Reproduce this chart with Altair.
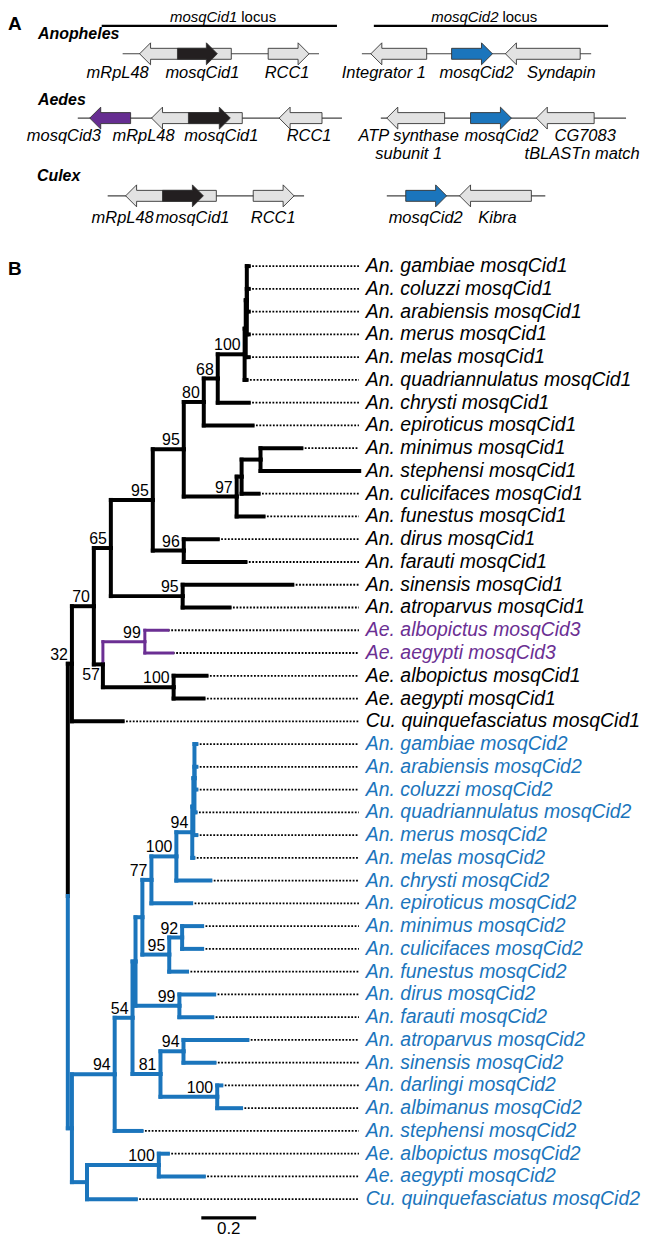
import altair as alt
import pandas as pd

FONT = "Liberation Sans"
BLACK = "#000000"
BLUE = "#1b75bc"
PURPLE = "#6b2f93"
GRAY_FILL = "#e2e2e2"

# ---------------- Panel A : gene neighbourhoods ----------------
GENUS = ["Anopheles", "Aedes", "Culex"]
GENUS_X = [38, 38, 37]
GENUS_Y = [32, 98, 175]
ROW_Y = [52, 116.5, 194.5]

LOCUS_NAME = ["mosqCid1", "mosqCid2"]
LOCUS_SPLIT_X = [238, 500]
LOCUS_TEXT_Y = [20.5, 20.5]
LOCUS_BAR_Y = [24, 24]
LOCUS_BAR_START = [102, 375]
LOCUS_BAR_END = [338, 610]

BACKBONE_ROW = [0, 0, 1, 1, 2, 2]
BACKBONE_START = [123, 363, 78, 382, 108, 388]
BACKBONE_END = [320, 593, 343, 628, 305, 547]

GENE_NAME = ["mRpL48", "mosqCid1", "RCC1", "Integrator 1", "mosqCid2", "Syndapin",
             "mosqCid3", "mRpL48", "mosqCid1", "RCC1", "ATP synthase subunit 1", "mosqCid2", "CG7083",
             "mRpL48", "mosqCid1", "RCC1", "mosqCid2", "Kibra"]
GENE_ROW = [0, 0, 0, 0, 0, 0, 1, 1, 1, 1, 1, 1, 1, 2, 2, 2, 2, 2]
GENE_START = [140, 178, 269, 372, 453, 507, 90, 152, 189, 280, 388, 472, 538, 126, 163, 254, 407, 461]
GENE_END = [232, 218, 310, 428, 494, 582, 131, 243, 231, 323, 446, 513, 596, 217, 204, 295, 448, 533]
GENE_STRAND = [-1, 1, 1, -1, 1, -1, -1, -1, 1, -1, -1, 1, -1, -1, 1, 1, 1, -1]

GENE_LABEL = ["mRpL48", "mosqCid1", "RCC1", "Integrator 1", "mosqCid2", "Syndapin",
              "mosqCid3", "mRpL48", "mosqCid1", "RCC1", "ATP synthase", "subunit 1", "mosqCid2",
              "CG7083", "tBLASTn match",
              "mRpL48", "mosqCid1", "RCC1", "mosqCid2", "Kibra"]
GENE_LABEL_X = [118, 203, 288, 385, 478, 563, 64, 144, 222, 310, 410, 410, 503, 587, 584,
                123, 193, 274, 427, 499]
GENE_LABEL_Y = [71, 71, 71, 71, 71, 71, 134, 134, 134, 134, 134, 153, 134, 134, 153,
                217, 217, 217, 217, 217]

GENE_COLORS = {"mosqCid1": "#231f20", "mosqCid2": BLUE, "mosqCid3": "#662d91"}

# ---------------- Panel B : phylogeny (branch lengths, subst./site) ----------------
def L(name, bl):
    return {"name": name, "bl": bl}


def N(bl, boot, *children, below=False):
    return {"bl": bl, "boot": boot, "children": list(children), "below": below}


TREE = N(0, None,
  N(0.015, "32",
    N(0.080, "70",
      N(0.062, "65",
        N(0.153, "95",
          N(0.113, "95",
            N(0.073, "80",
              N(0.051, "68",
                N(0.098, "100",
                  N(0.004, None,
                    N(0.004, None,
                      L("An. gambiae mosqCid1", 0.007),
                      L("An. coluzzi mosqCid1", 0.007),
                      L("An. arabiensis mosqCid1", 0.007),
                      L("An. merus mosqCid1", 0.007)),
                    L("An. melas mosqCid1", 0.011)),
                  L("An. quadriannulatus mosqCid1", 0.007)),
                L("An. chrysti mosqCid1", 0.113)),
              L("An. epiroticus mosqCid1", 0.178)),
            N(0.193, "97",
              N(0.018, None,
                N(0.069, None,
                  L("An. minimus mosqCid1", 0.149),
                  L("An. stephensi mosqCid1", 0.360)),
                L("An. culicifaces mosqCid1", 0.062)),
              L("An. funestus mosqCid1", 0.098))),
          N(0.113, "96",
            L("An. dirus mosqCid1", 0.124),
            L("An. farauti mosqCid1", 0.225))),
        N(0.262, "95",
          L("An. sinensis mosqCid1", 0.400),
          L("An. atroparvus mosqCid1", 0.171))),
      N(0.033, "57",
        N(0.153, "99",
          L("Ae. albopictus mosqCid3", 0.084),
          L("Ae. aegypti mosqCid3", 0.102)),
        N(0.258, "100",
          L("Ae. albopictus mosqCid1", 0.120),
          L("Ae. aegypti mosqCid1", 0.109)),
        below=True)),
    L("Cu. quinquefasciatus mosqCid1", 0.185)),
  N(0.015, None,
    N(0.156, "94",
      N(0.065, "54",
        N(0.011, None,
          N(0.025, None,
            N(0.033, "77",
              N(0.091, "100",
                N(0.058, "94",
                  N(0.004, None,
                    N(0.004, None,
                      L("An. gambiae mosqCid2", 0.007),
                      L("An. arabiensis mosqCid2", 0.007),
                      L("An. coluzzi mosqCid2", 0.007),
                      L("An. quadriannulatus mosqCid2", 0.004)),
                    L("An. merus mosqCid2", 0.011)),
                  L("An. melas mosqCid2", 0.004)),
                L("An. chrysti mosqCid2", 0.124)),
              L("An. epiroticus mosqCid2", 0.145)),
            N(0.098, "95",
              N(0.047, "92",
                L("An. minimus mosqCid2", 0.073),
                L("An. culicifaces mosqCid2", 0.073)),
              L("An. funestus mosqCid2", 0.065))),
          N(0.160, "99",
            L("An. dirus mosqCid2", 0.127),
            L("An. farauti mosqCid2", 0.120))),
        N(0.102, "81",
          N(0.084, "94",
            L("An. atroparvus mosqCid2", 0.233),
            L("An. sinensis mosqCid2", 0.113)),
          N(0.207, "100",
            L("An. darlingi mosqCid2", 0.015),
            L("An. albimanus mosqCid2", 0.087)))),
      L("An. stephensi mosqCid2", 0.098)),
    N(0.055, None,
      N(0.262, "100",
        L("Ae. albopictus mosqCid2", 0.033),
        L("Ae. aegypti mosqCid2", 0.164)),
      L("Cu. quinquefasciatus mosqCid2", 0.178))))

SCALE_BAR_LEN = 0.2
SCALE_BAR_START = 0.487
SCALE_BAR_ROW = 41.82
LEADER_END = 1.062
LABEL_X = 1.087

# ---------------- layout / scales ----------------
PAGE_W = 633
A_H = 225
B_H = 1000
sAx = alt.Scale(domain=[8, 641], nice=False, zero=False)
sAy = alt.Scale(domain=[8, 8 + A_H], nice=False, zero=False, reverse=True)
X0_PAGE, PX_UNIT = 68.0, 275.0
LEAF_Y0, LEAF_DY = 265.0, 22.83
sBx = alt.Scale(domain=[(8 - X0_PAGE) / PX_UNIT, (641 - X0_PAGE) / PX_UNIT], nice=False, zero=False)
sBy = alt.Scale(domain=[(233 - LEAF_Y0) / LEAF_DY, (233 + B_H - LEAF_Y0) / LEAF_DY],
                nice=False, zero=False, reverse=True)


def XA(f="x"):
    return alt.X(f"{f}:Q", scale=sAx, axis=None)


def YA(f="y"):
    return alt.Y(f"{f}:Q", scale=sAy, axis=None)


def XB(f="x"):
    return alt.X(f"{f}:Q", scale=sBx, axis=None)


def YB(f="y"):
    return alt.Y(f"{f}:Q", scale=sBy, axis=None)


# ---------- Panel A tables ----------
locus_bars = pd.DataFrame({"x": LOCUS_BAR_START, "x2": LOCUS_BAR_END, "y": LOCUS_BAR_Y})
locus_it = pd.DataFrame({"x": LOCUS_SPLIT_X, "y": LOCUS_TEXT_Y, "t": LOCUS_NAME})
locus_rm = pd.DataFrame({"x": LOCUS_SPLIT_X, "y": LOCUS_TEXT_Y, "t": ["locus", "locus"]})
backbones = pd.DataFrame({"x": BACKBONE_START, "x2": BACKBONE_END,
                          "y": [ROW_Y[r] for r in BACKBONE_ROW]})

HEAD_LEN, BODY_HALF, HEAD_HALF, EPS = 11, 5.5, 11, 0.02
poly = []
for gid, (name, row, s, e, strand) in enumerate(zip(GENE_NAME, GENE_ROW, GENE_START, GENE_END, GENE_STRAND)):
    yc = ROW_Y[row]
    if strand > 0:
        hb = max(s, e - HEAD_LEN)
        pts = [(s, yc - BODY_HALF, yc + BODY_HALF), (hb - EPS, yc - BODY_HALF, yc + BODY_HALF),
               (hb, yc - HEAD_HALF, yc + HEAD_HALF), (e, yc, yc)]
    else:
        hb = min(e, s + HEAD_LEN)
        pts = [(s, yc, yc), (hb, yc - HEAD_HALF, yc + HEAD_HALF),
               (hb + EPS, yc - BODY_HALF, yc + BODY_HALF), (e, yc - BODY_HALF, yc + BODY_HALF)]
    fill = GENE_COLORS.get(name, GRAY_FILL)
    for k, (px, y1, y2) in enumerate(pts):
        poly.append({"gid": f"g{gid:02d}", "x": px, "y": y1, "y2": y2, "fill": fill,
                     "grey": fill == GRAY_FILL})
poly = pd.DataFrame(poly)

genus_df = pd.DataFrame({"x": GENUS_X, "y": GENUS_Y, "t": GENUS})
glabel_df = pd.DataFrame({"x": GENE_LABEL_X, "y": GENE_LABEL_Y, "t": GENE_LABEL})

bars_l = alt.Chart(locus_bars).mark_rule(color=BLACK, strokeWidth=2.2).encode(x=XA(), x2="x2:Q", y=YA())
lit_l = alt.Chart(locus_it).mark_text(font=FONT, fontSize=15, fontStyle="italic", align="right",
                                      baseline="alphabetic", color=BLACK).encode(x=XA(), y=YA(), text="t:N")
lrm_l = alt.Chart(locus_rm).mark_text(font=FONT, fontSize=15, align="left", dx=4,
                                      baseline="alphabetic", color=BLACK).encode(x=XA(), y=YA(), text="t:N")
bb_l = alt.Chart(backbones).mark_rule(color="#444444", strokeWidth=1.1).encode(x=XA(), x2="x2:Q", y=YA())


def gene_layer(df):
    return alt.Chart(df).mark_area(stroke="#333333", strokeWidth=0.9, interpolate="linear").encode(
        x=XA(), y=YA(), y2="y2:Q", detail="gid:N",
        color=alt.Color("fill:N", scale=None))


grey_l = gene_layer(poly[poly["grey"]])
col_l = gene_layer(poly[~poly["grey"]])
genus_l = alt.Chart(genus_df).mark_text(font=FONT, fontSize=16, fontStyle="italic", fontWeight="bold",
                                        align="left", baseline="middle", color=BLACK).encode(
    x=XA(), y=YA(), text="t:N")
glab_l = alt.Chart(glabel_df).mark_text(font=FONT, fontSize=16.5, fontStyle="italic", align="center",
                                        baseline="middle", color=BLACK).encode(x=XA(), y=YA(), text="t:N")
a_l = alt.Chart(pd.DataFrame({"x": [8], "y": [22], "t": ["A"]})).mark_text(
    font=FONT, fontSize=19, fontWeight="bold", align="left", baseline="middle", color=BLACK).encode(
    x=XA(), y=YA(), text="t:N")

panelA = alt.layer(bars_l, lit_l, lrm_l, bb_l, grey_l, col_l, genus_l, glab_l, a_l).properties(
    width=PAGE_W, height=A_H)

# ---------- Panel B tables ----------
leaves = []


def layout(node, xp):
    node["x"] = xp + node["bl"]
    if "children" in node:
        for c in node["children"]:
            layout(c, node["x"])
        node["y"] = (node["children"][0]["y"] + node["children"][-1]["y"]) / 2
        node["leafnames"] = [n for c in node["children"] for n in c["leafnames"]]
    else:
        node["y"] = len(leaves)
        node["leafnames"] = [node["name"]]
        leaves.append(node)


layout(TREE, 0.0)


def gene_color(names):
    if all(n.endswith("mosqCid3") for n in names):
        return PURPLE
    if all(n.endswith("mosqCid2") for n in names):
        return BLUE
    return BLACK


edges, boots = [], []


def collect(node):
    for c in node.get("children", []):
        col = gene_color(c["leafnames"])
        w = 3 if col == PURPLE else 4
        edges.append({"x": node["x"], "x2": c["x"], "y": c["y"], "y2": c["y"], "c": col, "w": w})
        edges.append({"x": node["x"], "x2": node["x"], "y": node["y"], "y2": c["y"], "c": col, "w": w})
        collect(c)
    if node.get("boot"):
        boots.append({"x": node["x"], "y": node["y"], "t": node["boot"], "below": node["below"]})


collect(TREE)
edges = pd.DataFrame(edges)
boots = pd.DataFrame(boots)
leaf_df = pd.DataFrame({"name": [l["name"] for l in leaves], "x": [l["x"] for l in leaves],
                        "y": [l["y"] for l in leaves],
                        "c": [gene_color([l["name"]]) for l in leaves]})
leaf_df["lx"] = LABEL_X
leaf_df["x2"] = LEADER_END
lead_df = leaf_df[leaf_df["x"] < LEADER_END]

lead_l = alt.Chart(lead_df).mark_rule(color=BLACK, strokeWidth=1.8, strokeDash=[1.8, 1.6]).encode(
    x=XB(), x2="x2:Q", y=YB())
edge_l = alt.Chart(edges).mark_rule(strokeCap="square").encode(
    x=XB(), x2="x2:Q", y=YB(), y2="y2:Q",
    color=alt.Color("c:N", scale=None), strokeWidth=alt.StrokeWidth("w:Q", scale=None))
boot_up = alt.Chart(boots[~boots["below"]]).mark_text(
    font=FONT, fontSize=16, align="right", baseline="alphabetic", dx=-4, dy=-4, color=BLACK).encode(
    x=XB(), y=YB(), text="t:N")
boot_dn = alt.Chart(boots[boots["below"]]).mark_text(
    font=FONT, fontSize=16, align="right", baseline="alphabetic", dx=-3, dy=16, color=BLACK).encode(
    x=XB(), y=YB(), text="t:N")
lab_l = alt.Chart(leaf_df).mark_text(font=FONT, fontSize=19.5, fontStyle="italic", align="left",
                                     baseline="middle").encode(
    x=XB("lx"), y=YB(), text="name:N", color=alt.Color("c:N", scale=None))
sb_df = pd.DataFrame({"x": [SCALE_BAR_START], "x2": [SCALE_BAR_START + SCALE_BAR_LEN],
                      "y": [SCALE_BAR_ROW], "xm": [SCALE_BAR_START + SCALE_BAR_LEN / 2],
                      "t": [str(SCALE_BAR_LEN)]})
sb_l = alt.Chart(sb_df).mark_rule(color=BLACK, strokeWidth=3.5).encode(x=XB(), x2="x2:Q", y=YB())
sbt_l = alt.Chart(sb_df).mark_text(font=FONT, fontSize=17, align="center", baseline="top", dy=3,
                                   color=BLACK).encode(x=XB("xm"), y=YB(), text="t:N")
b_l = alt.Chart(pd.DataFrame({"x": [(8 - X0_PAGE) / PX_UNIT], "y": [0.13], "t": ["B"]})).mark_text(
    font=FONT, fontSize=19, fontWeight="bold", align="left", baseline="middle", color=BLACK).encode(
    x=XB(), y=YB(), text="t:N")

panelB = alt.layer(lead_l, edge_l, boot_up, boot_dn, lab_l, sb_l, sbt_l, b_l).properties(
    width=PAGE_W, height=B_H)

chart = alt.vconcat(panelA, panelB, spacing=0, bounds="flush", padding=0).configure(
    background="white", view=alt.ViewConfig(stroke=None))

chart.save("out.html", embed_options={"renderer": "svg", "actions": False})
